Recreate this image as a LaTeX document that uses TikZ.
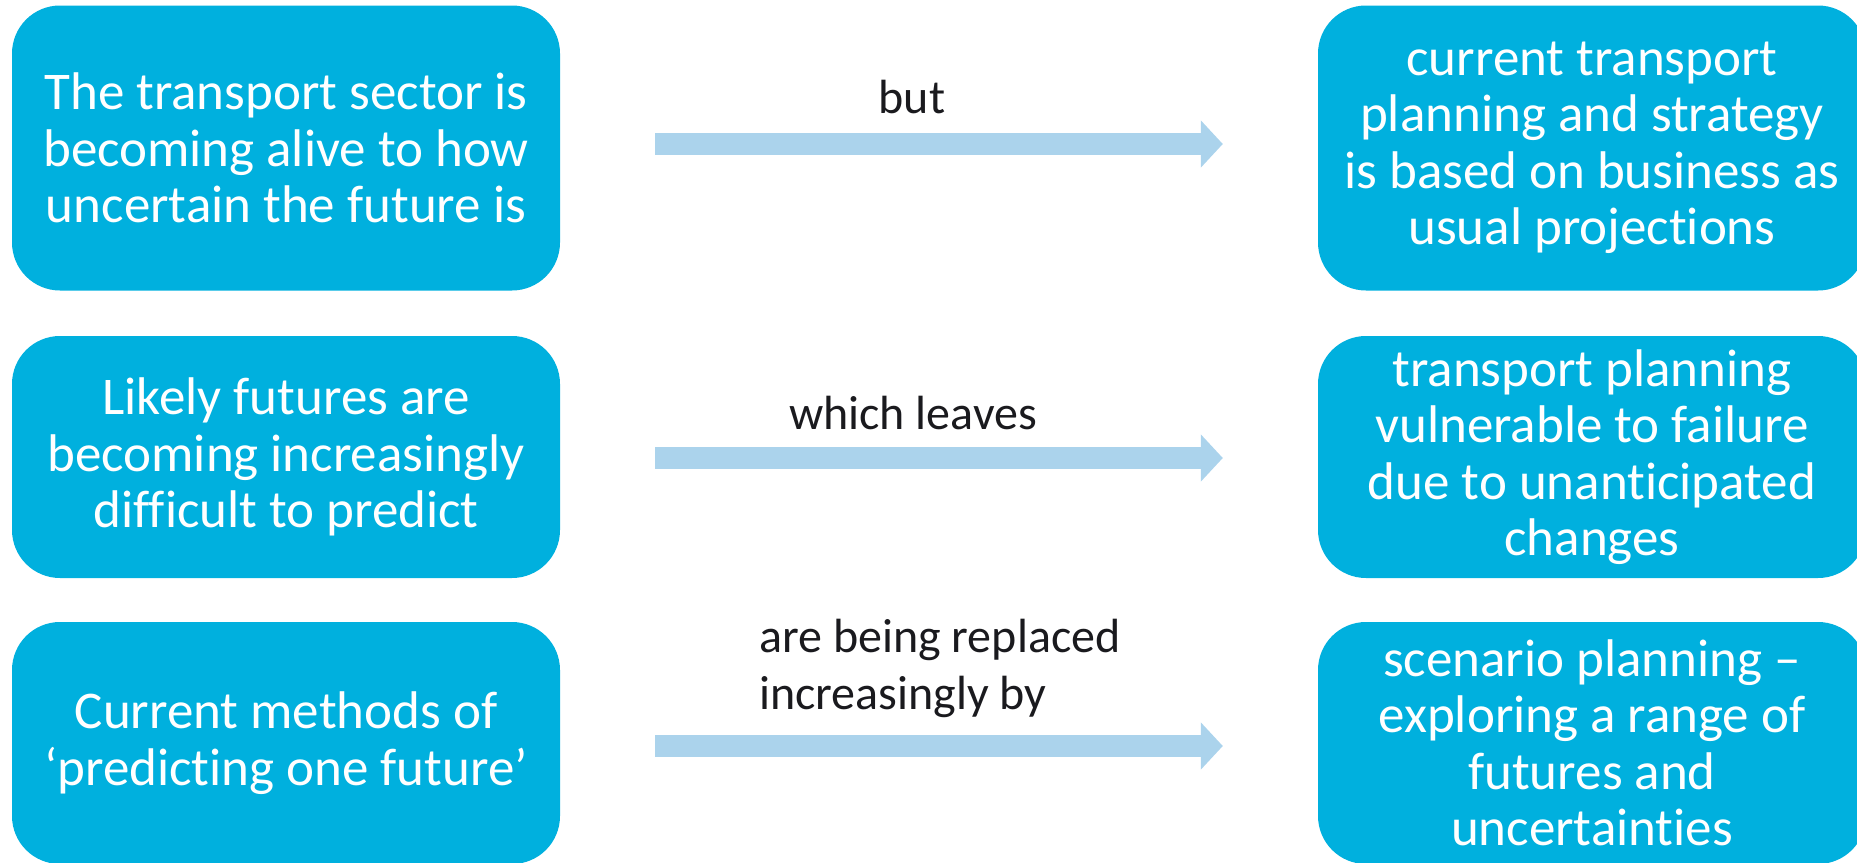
\documentclass[tikz,border=0pt]{standalone}
\usepackage{fontspec}
\setmainfont{Carlito}[Ligatures=NoCommon]
\usetikzlibrary{arrows.meta}
\definecolor{boxblue}{RGB}{0,176,222}
\definecolor{arrowblue}{RGB}{171,211,236}
\definecolor{labelgray}{RGB}{26,26,30}
\tikzset{
  infobox/.style={fill=boxblue, rounded corners=48pt, minimum width=548pt, text=white, align=center, inner sep=0pt,
    font=\fontsize{53}{56.5}\selectfont},
  bigarrow/.style={draw=arrowblue, line width=22pt, -{Triangle[length=22pt,width=46pt]}},
  linklabel/.style={text=labelgray, font=\fontsize{48}{57}\selectfont, inner sep=0pt}
}
\begin{document}
\begin{tikzpicture}[x=1pt,y=-1pt]
\useasboundingbox (0,0) rectangle (1857,862);
% left boxes
\node[infobox, minimum height=285pt] (L1) at (286,148) {The transport sector is\\becoming alive to how\\uncertain the future is};
\node[infobox, minimum height=242pt] (L2) at (286,457) {Likely futures are\\becoming increasingly\\difficult to predict};
\node[infobox, minimum height=242pt] (L3) at (286,743) {Current methods of\\`predicting one future'};
% right boxes
\node[infobox, minimum height=285pt] (R1) at (1592,148) {current transport\\planning and strategy\\is based on business as\\usual projections};
\node[infobox, minimum height=242pt] (R2) at (1592,457) {transport planning\\vulnerable to failure\\due to unanticipated\\changes};
\node[infobox, minimum height=242pt] (R3) at (1592,743) {scenario planning --\\exploring a range of\\futures and\\uncertainties};
% arrows
\draw[bigarrow] ([xshift=95pt,yshift=4pt]L1.east) -- ([xshift=-95pt,yshift=4pt]R1.west);
\draw[bigarrow] ([xshift=95pt,yshift=-1pt]L2.east) -- ([xshift=-95pt,yshift=-1pt]R2.west);
\draw[bigarrow] ([xshift=95pt,yshift=-3pt]L3.east) -- ([xshift=-95pt,yshift=-3pt]R3.west);
% labels
\node[linklabel] (t1) at (912,97) {but};
\node[linklabel] (t2) at (913,413) {which leaves};
\node[linklabel, align=left, anchor=west] (t3) at (759,668) {are being replaced\\increasingly by};
\end{tikzpicture}
\end{document}
